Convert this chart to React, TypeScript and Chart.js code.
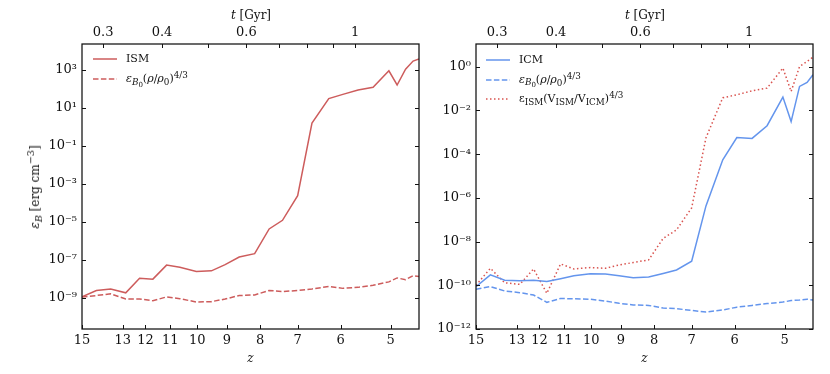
import React, { useEffect, useRef } from 'react';
import { Chart, registerables } from 'chart.js';
Chart.register(...registerables);

// ---------- data ----------
const redshift = [15.0, 14.26, 13.56, 12.86, 12.25, 11.69, 11.14, 10.63, 10.03, 9.51, 9.06, 8.62, 8.16, 7.75, 7.39, 7.0, 6.65, 6.26, 5.95, 5.63, 5.33, 5.03, 4.88, 4.73, 4.6, 4.5];

const ismField = [1.1e-9, 2.4e-9, 2.9e-9, 1.8e-9, 1.05e-8, 9.5e-9, 5.2e-8, 4.0e-8, 2.4e-8, 2.6e-8, 5.5e-8, 1.4e-7, 2.1e-7, 4.2e-6, 1.2e-5, 2.4e-4, 1.6, 31, 52, 89, 123, 912, 162, 1100, 2950, 3800];
const ismScaled = [1.1e-9, 1.3e-9, 1.6e-9, 8.5e-10, 8.5e-10, 6.9e-10, 1.1e-9, 8.9e-10, 5.9e-10, 6.2e-10, 8.5e-10, 1.3e-9, 1.4e-9, 2.4e-9, 2.1e-9, 2.4e-9, 2.9e-9, 3.9e-9, 3.1e-9, 3.5e-9, 4.5e-9, 6.8e-9, 1.1e-8, 8.9e-9, 1.45e-8, 1.3e-8];

const icmField = [8.7e-11, 3.0e-10, 1.7e-10, 1.6e-10, 1.7e-10, 1.5e-10, 2.0e-10, 2.7e-10, 3.4e-10, 3.3e-10, 2.75e-10, 2.2e-10, 2.4e-10, 3.5e-10, 5.0e-10, 1.26e-9, 4.3e-7, 5.5e-5, 5.75e-4, 5.25e-4, 2.0e-3, 4.1e-2, 3.1e-3, 0.126, 0.19, 0.43];
const icmScaled = [6.6e-11, 8.7e-11, 5.5e-11, 4.6e-11, 3.6e-11, 1.66e-11, 2.5e-11, 2.4e-11, 2.3e-11, 1.9e-11, 1.5e-11, 1.26e-11, 1.2e-11, 9.1e-12, 8.5e-12, 7.1e-12, 6.0e-12, 7.4e-12, 1.0e-11, 1.2e-11, 1.45e-11, 1.7e-11, 2.0e-11, 2.1e-11, 2.3e-11, 2.1e-11];
const icmFromIsm = [1.0e-10, 6.0e-10, 1.3e-10, 1.1e-10, 5.6e-10, 4.3e-11, 9.5e-10, 5.6e-10, 6.5e-10, 6.0e-10, 8.5e-10, 1.1e-9, 1.45e-9, 1.4e-8, 3.4e-8, 3.5e-7, 5.6e-4, 3.8e-2, 5.2e-2, 7.9e-2, 0.105, 0.87, 7.4e-2, 1.02, 1.74, 2.75];

const zTicks = [15, 13, 12, 11, 10, 9, 8, 7, 6, 5];
const zLimits = [15, 4.5];
const tTicks = [0.3, 0.4, 0.5, 0.6, 0.7, 0.8, 0.9, 1.0];
const tLabelled = [0.3, 0.4, 0.6, 1.0];
const leftDecades = [3, 1, -1, -3, -5, -7, -9];
const rightDecades = [0, -2, -4, -6, -8, -10, -12];
const leftLogRange = [-10.65, 4.37];
const rightLogRange = [-12, 1.04];

// ---------- axis coordinate (the reference x axis is close to t^0.05) ----------
const T_SCALE = 17.3;
const zCoord = (z: number) => Math.pow(1 + z, -0.075);
const tCoord = (t: number) => Math.pow(t / T_SCALE, 0.05);

const FONT = "'DejaVu Serif', serif";
const RED = '#cd5c5c';
const RED2 = '#d9534f';
const BLUE = '#6495ed';
const INK = '#111';

const SUP: Record<string, string> = { '0': '⁰', '1': '¹', '2': '²', '3': '³', '4': '⁴', '5': '⁵', '6': '⁶', '7': '⁷', '8': '⁸', '9': '⁹', '-': '⁻' };
const powLabel = (e: number) => '10' + String(e).split('').map((c) => SUP[c]).join('');

const frameTicks = {
  id: 'frameTicks',
  afterDraw(chart: any) {
    const { ctx, chartArea: a, scales } = chart;
    const L = 4;
    ctx.save();
    ctx.strokeStyle = INK;
    ctx.lineWidth = 1;
    ctx.beginPath();
    for (const t of scales.x.ticks) {
      const p = Math.round(scales.x.getPixelForValue(t.value)) + 0.5;
      ctx.moveTo(p, a.bottom);
      ctx.lineTo(p, a.bottom - L);
    }
    for (const t of scales.x2.ticks) {
      const p = Math.round(scales.x2.getPixelForValue(t.value)) + 0.5;
      ctx.moveTo(p, a.top);
      ctx.lineTo(p, a.top + L);
    }
    for (const t of scales.y.ticks) {
      const p = Math.round(scales.y.getPixelForValue(t.value)) + 0.5;
      ctx.moveTo(a.left, p);
      ctx.lineTo(a.left + L, p);
      ctx.moveTo(a.right, p);
      ctx.lineTo(a.right - L, p);
    }
    ctx.stroke();
    ctx.lineWidth = 1.25;
    ctx.strokeRect(a.left, a.top, a.right - a.left, a.bottom - a.top);
    ctx.restore();
  },
};

type Series = { values: number[]; color: string; dash: number[] };

function buildConfig(series: Series[], logRange: number[], decades: number[], yWidth: number, padRight: number): any {
  const tickFont = { family: FONT, size: 13 };
  return {
    type: 'line',
    data: {
      datasets: series.map((s) => ({
        data: redshift.map((z, i) => ({ x: zCoord(z), y: s.values[i] })),
        borderColor: s.color,
        borderWidth: 1.5,
        borderDash: s.dash,
        pointRadius: 0,
        fill: false,
        tension: 0,
      })),
    },
    options: {
      animation: false,
      responsive: false,
      devicePixelRatio: 1,
      layout: { padding: { left: 0, right: padRight, top: 0, bottom: 0 } },
      plugins: { legend: { display: false }, tooltip: { enabled: false } },
      scales: {
        x: {
          type: 'linear',
          position: 'bottom',
          min: zCoord(zLimits[0]),
          max: zCoord(zLimits[1]),
          grid: { display: false, drawTicks: false },
          border: { display: false },
          afterBuildTicks: (s: any) => {
            s.ticks = zTicks.map((z) => ({ value: zCoord(z) }));
          },
          afterFit: (s: any) => {
            s.height = 45;
          },
          ticks: {
            autoSkip: false,
            maxRotation: 0,
            padding: 4,
            font: tickFont,
            color: INK,
            callback: (_v: any, i: number) => String(zTicks[i]),
          },
          title: { display: true, text: 'z', color: INK, font: { family: FONT, size: 12, style: 'italic' }, padding: { top: 0, bottom: 8 } },
        },
        x2: {
          type: 'linear',
          position: 'top',
          min: zCoord(zLimits[0]),
          max: zCoord(zLimits[1]),
          grid: { display: false, drawTicks: false },
          border: { display: false },
          afterBuildTicks: (s: any) => {
            s.ticks = tTicks.map((t) => ({ value: tCoord(t) }));
          },
          afterFit: (s: any) => {
            s.height = 44;
          },
          ticks: {
            autoSkip: false,
            maxRotation: 0,
            padding: 4,
            font: tickFont,
            color: INK,
            callback: (_v: any, i: number) => (tLabelled.includes(tTicks[i]) ? String(tTicks[i]) : ''),
          },
        },
        y: {
          type: 'logarithmic',
          position: 'left',
          min: Math.pow(10, logRange[0]),
          max: Math.pow(10, logRange[1]),
          grid: { display: false, drawTicks: false },
          border: { display: false },
          afterBuildTicks: (s: any) => {
            s.ticks = decades.map((e) => ({ value: Math.pow(10, e) }));
          },
          afterFit: (s: any) => {
            s.width = yWidth;
          },
          ticks: {
            autoSkip: false,
            padding: 5,
            font: tickFont,
            color: INK,
            callback: (_v: any, i: number) => powLabel(decades[i]),
          },
        },
      },
    },
    plugins: [frameTicks],
  };
}

function ChartCanvas({ left, width, config }: { left: number; width: number; config: () => any }) {
  const ref = useRef<HTMLCanvasElement | null>(null);
  useEffect(() => {
    if (!ref.current) return;
    const chart = new Chart(ref.current, config());
    return () => chart.destroy();
  }, []);
  return <canvas ref={ref} width={width} height={374} style={{ position: 'absolute', left, top: 0, width, height: 374 }} />;
}

const subStyle: React.CSSProperties = { fontSize: '80%', verticalAlign: '-0.3em', lineHeight: 0 };
const supStyle: React.CSSProperties = { fontSize: '80%', verticalAlign: '0.5em', lineHeight: 0 };

function LegendRow({ x, y, color, dash, children }: { x: number; y: number; color: string; dash?: string; children: React.ReactNode }) {
  return (
    <div style={{ position: 'absolute', left: x, top: y, transform: 'translateY(-50%)', display: 'flex', alignItems: 'center', whiteSpace: 'nowrap', font: `11px ${FONT}`, color: INK, lineHeight: '14px' }}>
      <svg width={24} height={6} style={{ display: 'block' }}>
        <line x1={0} y1={3} x2={24} y2={3} stroke={color} strokeWidth={1.5} strokeDasharray={dash} />
      </svg>
      <span style={{ marginLeft: 9 }}>{children}</span>
    </div>
  );
}

function Centered({ x, y, rotate, children }: { x: number; y: number; rotate?: boolean; children: React.ReactNode }) {
  return (
    <div style={{ position: 'absolute', left: x, top: y, transform: `translate(-50%, -50%)${rotate ? ' rotate(-90deg)' : ''}`, whiteSpace: 'nowrap', font: `12px ${FONT}`, color: INK, lineHeight: '14px' }}>
      {children}
    </div>
  );
}

const ScaledLabel = () => (
  <>
    <i>ε</i>
    <sub style={subStyle}>
      <i>B</i>
      <sub style={subStyle}>0</sub>
    </sub>
    (<i>ρ</i>/<i>ρ</i>
    <sub style={subStyle}>0</sub>)<sup style={supStyle}>4/3</sup>
  </>
);

export default function App() {
  const leftConfig = () =>
    buildConfig(
      [
        { values: ismField, color: RED, dash: [] },
        { values: ismScaled, color: RED, dash: [5.5, 2.4] },
      ],
      leftLogRange,
      leftDecades,
      82,
      21
    );
  const rightConfig = () =>
    buildConfig(
      [
        { values: icmField, color: BLUE, dash: [] },
        { values: icmScaled, color: BLUE, dash: [5.5, 2.4] },
        { values: icmFromIsm, color: RED2, dash: [1.5, 2.5] },
      ],
      rightLogRange,
      rightDecades,
      51,
      17
    );
  return (
    <div style={{ position: 'absolute', left: 0, top: 0, width: 830, height: 374, background: '#fff', overflow: 'hidden' }}>
      <ChartCanvas left={0} width={440} config={leftConfig} />
      <ChartCanvas left={425} width={405} config={rightConfig} />

      <Centered x={251} y={15}>
        <i>t</i> [Gyr]
      </Centered>
      <Centered x={645} y={15}>
        <i>t</i> [Gyr]
      </Centered>
      <Centered x={35} y={187} rotate>
        <i>ε</i>
        <sub style={subStyle}>
          <i>B</i>
        </sub>{' '}
        [erg cm<sup style={supStyle}>−3</sup>]
      </Centered>

      <LegendRow x={93} y={59} color={RED}>
        ISM
      </LegendRow>
      <LegendRow x={93} y={79} color={RED} dash="5.5 2.4">
        <ScaledLabel />
      </LegendRow>

      <LegendRow x={486} y={60} color={BLUE}>
        ICM
      </LegendRow>
      <LegendRow x={486} y={79.5} color={BLUE} dash="5.5 2.4">
        <ScaledLabel />
      </LegendRow>
      <LegendRow x={486} y={99} color={RED2} dash="1.5 2.5">
        ε<sub style={subStyle}>ISM</sub>(V<sub style={subStyle}>ISM</sub>/V<sub style={subStyle}>ICM</sub>)<sup style={supStyle}>4/3</sup>
      </LegendRow>
    </div>
  );
}
